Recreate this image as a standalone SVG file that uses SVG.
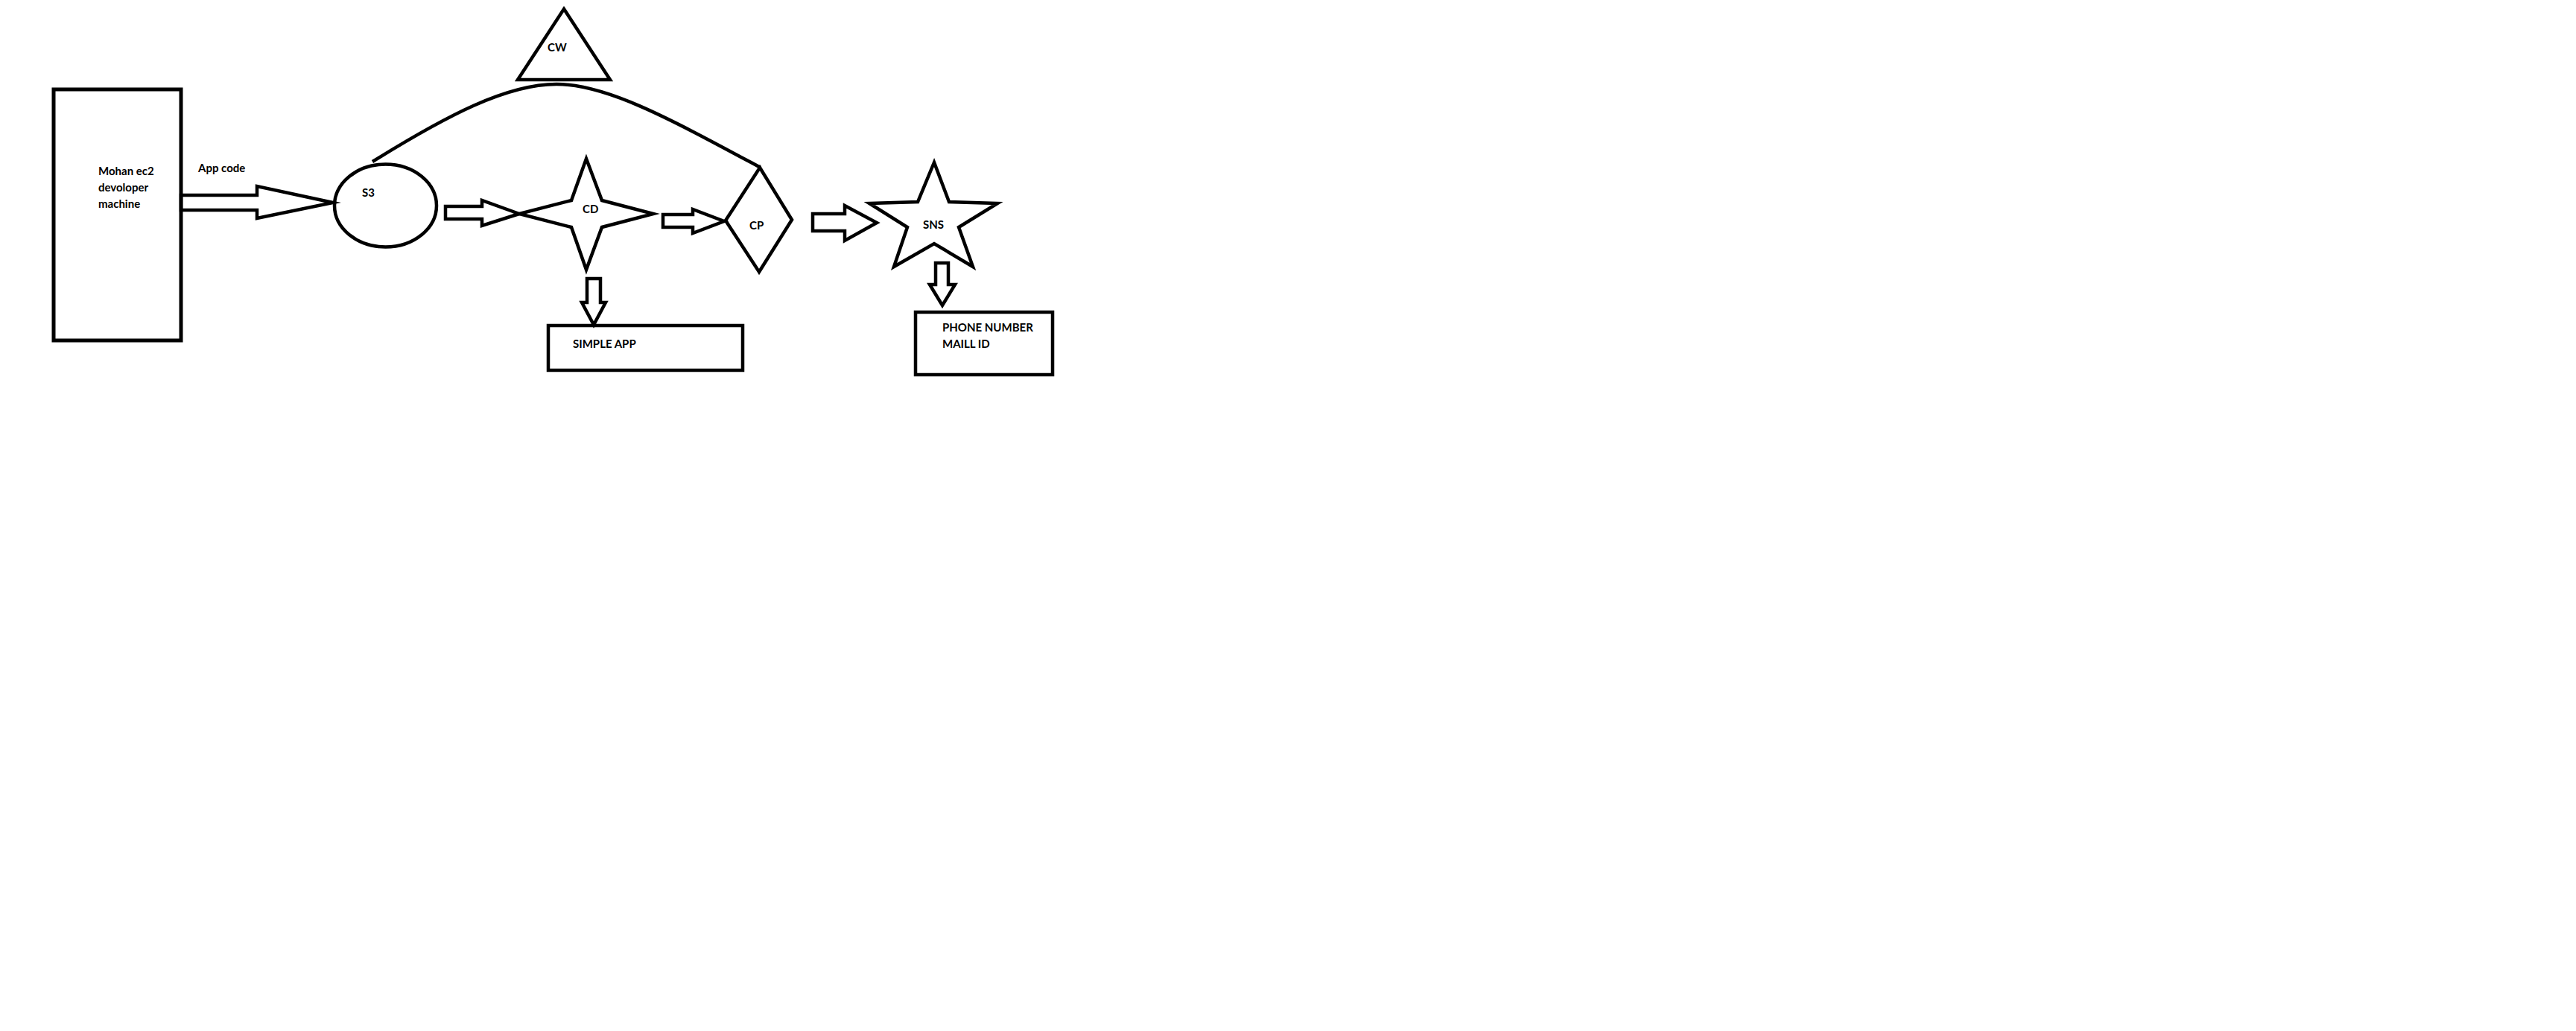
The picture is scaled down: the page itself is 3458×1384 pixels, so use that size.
<svg xmlns="http://www.w3.org/2000/svg" width="3458" height="1384" viewBox="0 0 3458 1384">
<style>
.s{fill:none;stroke:#000;stroke-width:4.5;stroke-linejoin:miter;stroke-miterlimit:10}
.f{fill:#fff;stroke:#000;stroke-width:4.5;stroke-linejoin:miter;stroke-miterlimit:10}
.t{font-family:Lato,"Liberation Sans",sans-serif;font-weight:bold;font-size:15px;fill:#000}
</style>
<rect width="3458" height="1384" fill="#fff"/>
<g id="connectors">
<path class="s" d="M500,217 C600,155 680,113 747,113 C815,113 900,160 1021,225"/>
<polygon class="f" points="243,262 345,262 345,250 447,272 345,293 345,282 243,282"/>
<polygon class="f" points="598,277 647,277 647,269 697,287 647,303 647,294 598,294"/>
<polygon class="f" points="890,288 930,288 930,281 972,297 930,313 930,305 890,305"/>
<polygon class="f" points="1091,287 1134,287 1134,276 1177,299 1134,323 1134,310 1091,310"/>
<polygon class="f" points="788,374 806,374 806,406 813,406 797,436 781,406 788,406"/>
<polygon class="f" points="1256,353 1273,353 1273,382 1282,382 1265,410 1248,382 1256,382"/>
<text class="t" x="266" y="231">App code</text>
</g>
<g id="dev">
<rect class="s" x="72" y="120" width="171" height="337" style="stroke-width:5"/>
<text class="t" x="132" y="235">Mohan ec2</text>
<text class="t" x="132" y="257">devoloper</text>
<text class="t" x="132" y="279">machine</text>
</g>
<g id="s3">
<ellipse class="s" cx="517.5" cy="276" rx="68.5" ry="55.5"/>
<text class="t" x="486" y="264">S3</text>
</g>
<g id="cw">
<polygon class="s" points="757,12 819,107 695,107"/>
<text class="t" x="735" y="69">CW</text>
</g>
<g id="cd">
<polygon class="s" points="787,213 808,269 877,287 808,305 787,362 767,305 697,287 767,269"/>
<text class="t" x="782" y="286">CD</text>
</g>
<g id="cp">
<polygon class="s" points="1020,225 1063,295 1019,365 974,296"/>
<text class="t" x="1006" y="308">CP</text>
</g>
<g id="sns">
<polygon class="s" points="1254,218 1274,271 1339,273 1287,305 1306,358 1254,327 1200,358 1218,305 1167,273 1232,271"/>
<text class="t" x="1239" y="307">SNS</text>
</g>
<g id="simple">
<rect class="s" x="736" y="437" width="261" height="60"/>
<text class="t" x="769" y="467">SIMPLE APP</text>
</g>
<g id="phone">
<rect class="s" x="1229" y="419" width="184" height="84"/>
<text class="t" x="1265" y="445">PHONE NUMBER</text>
<text class="t" x="1265" y="467">MAILL ID</text>
</g>
</svg>
